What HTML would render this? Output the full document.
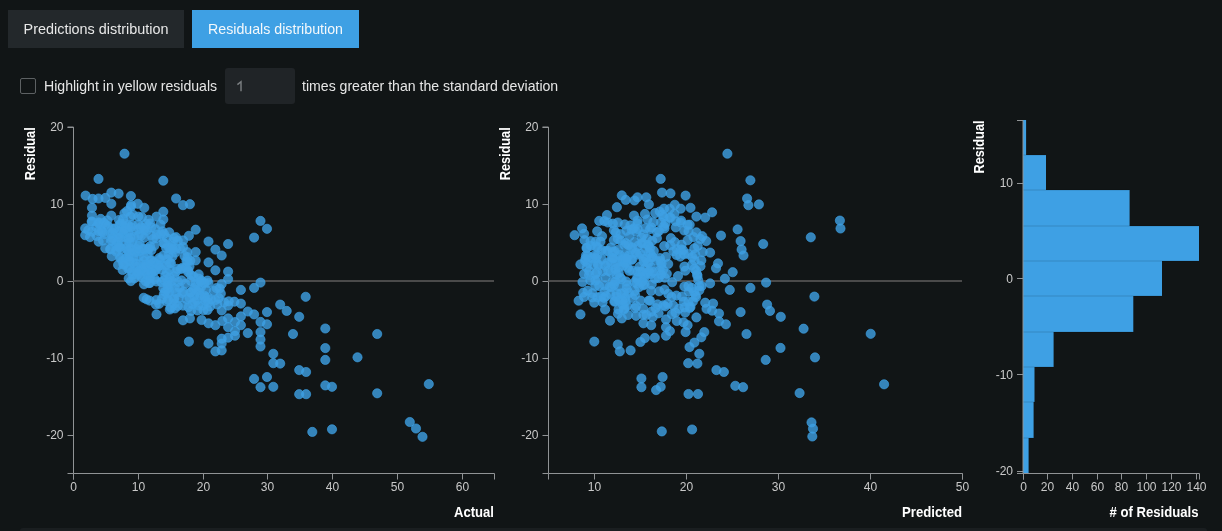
<!DOCTYPE html>
<html><head><meta charset="utf-8"><style>
html,body{margin:0;padding:0;}
body{-webkit-font-smoothing:antialiased;width:1222px;height:531px;overflow:hidden;background:#111516;position:relative;font-family:"Liberation Sans",sans-serif;}
.btn{will-change:transform;position:absolute;top:10px;height:38px;line-height:39px;font-size:14.4px;text-align:center;color:#e8e8e8;}
#b1{left:8px;width:176px;background:#23282b;}
#b2{left:192px;width:167px;background:#3ea0e4;color:#f4f8fb;font-size:14.2px;}
#cb{position:absolute;left:20px;top:78px;width:14px;height:14px;border:1px solid #5d6163;border-radius:2px;}
.t{will-change:transform;position:absolute;top:77px;font-size:14.1px;line-height:18px;color:#e6e6e6;white-space:nowrap;}
#inp{position:absolute;left:225px;top:68px;width:70px;height:36px;background:#202427;border-radius:3px;}
#inp span{position:absolute;left:12px;top:9px;font-size:14px;line-height:18px;color:#6f7376;}
#strip{position:absolute;left:20px;top:528px;width:1187px;height:3px;background:#1a1e20;border-radius:3px 3px 0 0;}
svg{position:absolute;left:0;top:0;}
</style></head><body>
<div class="btn" id="b1">Predictions distribution</div>
<div class="btn" id="b2">Residuals distribution</div>
<div id="cb"></div>
<div class="t" style="left:44px">Highlight in yellow residuals</div>
<div id="inp"></div>
<div class="t" style="left:302px">times greater than the standard deviation</div>
<div id="strip"></div>
<svg width="1222" height="531" viewBox="0 0 1222 531"><g font-size="12" font-family="Liberation Sans, sans-serif"><path d="M67.5,127.0H73.5V473.5H67.5" fill="none" stroke="#909395"/><line x1="67.5" x2="73.5" y1="127.5" y2="127.5" stroke="#909395"/><text x="63.5" y="131.0" text-anchor="end" fill="#c9c9c9">20</text><line x1="67.5" x2="73.5" y1="204.5" y2="204.5" stroke="#909395"/><text x="63.5" y="208.0" text-anchor="end" fill="#c9c9c9">10</text><line x1="67.5" x2="73.5" y1="281.5" y2="281.5" stroke="#909395"/><text x="63.5" y="285.0" text-anchor="end" fill="#c9c9c9">0</text><line x1="67.5" x2="73.5" y1="358.5" y2="358.5" stroke="#909395"/><text x="63.5" y="362.0" text-anchor="end" fill="#c9c9c9">-10</text><line x1="67.5" x2="73.5" y1="435.5" y2="435.5" stroke="#909395"/><text x="63.5" y="439.0" text-anchor="end" fill="#c9c9c9">-20</text><path d="M73.5,479.5V473.5H494.5V479.5" fill="none" stroke="#909395"/><line x1="73.5" x2="73.5" y1="473.5" y2="479.5" stroke="#909395"/><text x="73.5" y="490.5" text-anchor="middle" fill="#c9c9c9">0</text><line x1="138.5" x2="138.5" y1="473.5" y2="479.5" stroke="#909395"/><text x="138.5" y="490.5" text-anchor="middle" fill="#c9c9c9">10</text><line x1="203.5" x2="203.5" y1="473.5" y2="479.5" stroke="#909395"/><text x="203.5" y="490.5" text-anchor="middle" fill="#c9c9c9">20</text><line x1="267.5" x2="267.5" y1="473.5" y2="479.5" stroke="#909395"/><text x="267.5" y="490.5" text-anchor="middle" fill="#c9c9c9">30</text><line x1="332.5" x2="332.5" y1="473.5" y2="479.5" stroke="#909395"/><text x="332.5" y="490.5" text-anchor="middle" fill="#c9c9c9">40</text><line x1="397.5" x2="397.5" y1="473.5" y2="479.5" stroke="#909395"/><text x="397.5" y="490.5" text-anchor="middle" fill="#c9c9c9">50</text><line x1="462.5" x2="462.5" y1="473.5" y2="479.5" stroke="#909395"/><text x="462.5" y="490.5" text-anchor="middle" fill="#c9c9c9">60</text><line x1="73.5" x2="494" y1="281" y2="281" stroke="#4a4a4a" stroke-width="2"/><path d="M542.5,127.0H548.5V473.5H542.5" fill="none" stroke="#909395"/><line x1="542.5" x2="548.5" y1="127.5" y2="127.5" stroke="#909395"/><text x="538.5" y="131.0" text-anchor="end" fill="#c9c9c9">20</text><line x1="542.5" x2="548.5" y1="204.5" y2="204.5" stroke="#909395"/><text x="538.5" y="208.0" text-anchor="end" fill="#c9c9c9">10</text><line x1="542.5" x2="548.5" y1="281.5" y2="281.5" stroke="#909395"/><text x="538.5" y="285.0" text-anchor="end" fill="#c9c9c9">0</text><line x1="542.5" x2="548.5" y1="358.5" y2="358.5" stroke="#909395"/><text x="538.5" y="362.0" text-anchor="end" fill="#c9c9c9">-10</text><line x1="542.5" x2="548.5" y1="435.5" y2="435.5" stroke="#909395"/><text x="538.5" y="439.0" text-anchor="end" fill="#c9c9c9">-20</text><path d="M548.5,479.5V473.5H962.5V479.5" fill="none" stroke="#909395"/><line x1="594.5" x2="594.5" y1="473.5" y2="479.5" stroke="#909395"/><text x="594.5" y="490.5" text-anchor="middle" fill="#c9c9c9">10</text><line x1="686.5" x2="686.5" y1="473.5" y2="479.5" stroke="#909395"/><text x="686.5" y="490.5" text-anchor="middle" fill="#c9c9c9">20</text><line x1="778.5" x2="778.5" y1="473.5" y2="479.5" stroke="#909395"/><text x="778.5" y="490.5" text-anchor="middle" fill="#c9c9c9">30</text><line x1="870.5" x2="870.5" y1="473.5" y2="479.5" stroke="#909395"/><text x="870.5" y="490.5" text-anchor="middle" fill="#c9c9c9">40</text><line x1="962.5" x2="962.5" y1="473.5" y2="479.5" stroke="#909395"/><text x="962.5" y="490.5" text-anchor="middle" fill="#c9c9c9">50</text><line x1="548.5" x2="962" y1="281" y2="281" stroke="#4a4a4a" stroke-width="2"/></g><g fill="#3ea0e4"></g><g fill="#3ea0e4" fill-opacity="0.8" stroke="#3ea0e4" stroke-opacity="0.8" stroke-width="0.8"><circle cx="119.0" cy="220.0" r="4.6"/><circle cx="140.7" cy="227.1" r="4.6"/><circle cx="91.9" cy="231.7" r="4.6"/><circle cx="129.3" cy="242.3" r="4.6"/><circle cx="98.6" cy="222.4" r="4.6"/><circle cx="150.0" cy="246.3" r="4.6"/><circle cx="144.9" cy="228.1" r="4.6"/><circle cx="100.7" cy="218.9" r="4.6"/><circle cx="117.5" cy="241.9" r="4.6"/><circle cx="104.4" cy="234.2" r="4.6"/><circle cx="151.2" cy="227.3" r="4.6"/><circle cx="141.9" cy="217.1" r="4.6"/><circle cx="92.1" cy="221.8" r="4.6"/><circle cx="155.4" cy="229.1" r="4.6"/><circle cx="118.0" cy="234.3" r="4.6"/><circle cx="132.2" cy="224.9" r="4.6"/><circle cx="167.0" cy="238.1" r="4.6"/><circle cx="110.9" cy="234.0" r="4.6"/><circle cx="139.6" cy="243.9" r="4.6"/><circle cx="160.4" cy="224.5" r="4.6"/><circle cx="101.5" cy="231.1" r="4.6"/><circle cx="90.0" cy="237.1" r="4.6"/><circle cx="164.0" cy="233.9" r="4.6"/><circle cx="156.9" cy="234.6" r="4.6"/><circle cx="171.7" cy="246.2" r="4.6"/><circle cx="134.4" cy="236.9" r="4.6"/><circle cx="125.4" cy="237.1" r="4.6"/><circle cx="88.3" cy="230.2" r="4.6"/><circle cx="125.9" cy="243.8" r="4.6"/><circle cx="114.4" cy="228.7" r="4.6"/><circle cx="104.0" cy="222.7" r="4.6"/><circle cx="146.1" cy="223.7" r="4.6"/><circle cx="123.7" cy="233.7" r="4.6"/><circle cx="138.6" cy="235.4" r="4.6"/><circle cx="177.8" cy="240.7" r="4.6"/><circle cx="126.0" cy="228.2" r="4.6"/><circle cx="96.6" cy="235.9" r="4.6"/><circle cx="107.3" cy="220.4" r="4.6"/><circle cx="96.3" cy="227.0" r="4.6"/><circle cx="148.6" cy="219.9" r="4.6"/><circle cx="123.1" cy="219.1" r="4.6"/><circle cx="133.5" cy="231.0" r="4.6"/><circle cx="120.9" cy="223.7" r="4.6"/><circle cx="174.1" cy="238.0" r="4.6"/><circle cx="103.0" cy="240.5" r="4.6"/><circle cx="173.0" cy="241.6" r="4.6"/><circle cx="112.4" cy="237.9" r="4.6"/><circle cx="132.6" cy="262.5" r="4.6"/><circle cx="129.6" cy="261.1" r="4.6"/><circle cx="183.0" cy="305.6" r="4.6"/><circle cx="186.6" cy="299.2" r="4.6"/><circle cx="218.7" cy="298.1" r="4.6"/><circle cx="198.8" cy="278.6" r="4.6"/><circle cx="146.6" cy="299.3" r="4.6"/><circle cx="120.9" cy="257.7" r="4.6"/><circle cx="148.8" cy="283.1" r="4.6"/><circle cx="121.4" cy="248.9" r="4.6"/><circle cx="170.8" cy="307.8" r="4.6"/><circle cx="159.2" cy="303.8" r="4.6"/><circle cx="136.5" cy="266.7" r="4.6"/><circle cx="137.4" cy="274.8" r="4.6"/><circle cx="149.2" cy="277.3" r="4.6"/><circle cx="177.9" cy="305.9" r="4.6"/><circle cx="167.7" cy="282.0" r="4.6"/><circle cx="170.4" cy="249.2" r="4.6"/><circle cx="160.0" cy="259.7" r="4.6"/><circle cx="195.6" cy="283.6" r="4.6"/><circle cx="145.7" cy="281.2" r="4.6"/><circle cx="174.4" cy="298.2" r="4.6"/><circle cx="201.5" cy="280.5" r="4.6"/><circle cx="181.6" cy="280.4" r="4.6"/><circle cx="169.0" cy="292.3" r="4.6"/><circle cx="161.5" cy="282.1" r="4.6"/><circle cx="192.4" cy="304.1" r="4.6"/><circle cx="174.9" cy="308.4" r="4.6"/><circle cx="203.0" cy="305.4" r="4.6"/><circle cx="187.5" cy="257.2" r="4.6"/><circle cx="154.8" cy="279.2" r="4.6"/><circle cx="228.7" cy="301.3" r="4.6"/><circle cx="169.5" cy="269.7" r="4.6"/><circle cx="129.5" cy="268.4" r="4.6"/><circle cx="174.3" cy="276.2" r="4.6"/><circle cx="203.5" cy="310.2" r="4.6"/><circle cx="118.1" cy="265.0" r="4.6"/><circle cx="138.8" cy="256.3" r="4.6"/><circle cx="176.3" cy="292.8" r="4.6"/><circle cx="116.2" cy="251.7" r="4.6"/><circle cx="191.0" cy="275.2" r="4.6"/><circle cx="161.7" cy="269.7" r="4.6"/><circle cx="170.9" cy="263.3" r="4.6"/><circle cx="144.0" cy="267.5" r="4.6"/><circle cx="167.5" cy="259.4" r="4.6"/><circle cx="148.4" cy="249.2" r="4.6"/><circle cx="136.3" cy="249.0" r="4.6"/><circle cx="128.7" cy="278.4" r="4.6"/><circle cx="166.9" cy="301.4" r="4.6"/><circle cx="191.0" cy="310.9" r="4.6"/><circle cx="193.3" cy="288.7" r="4.6"/><circle cx="155.6" cy="270.2" r="4.6"/><circle cx="111.8" cy="256.3" r="4.6"/><circle cx="213.8" cy="290.9" r="4.6"/><circle cx="140.2" cy="263.5" r="4.6"/><circle cx="141.6" cy="277.4" r="4.6"/><circle cx="143.7" cy="270.8" r="4.6"/><circle cx="164.3" cy="280.2" r="4.6"/><circle cx="110.2" cy="249.4" r="4.6"/><circle cx="178.2" cy="281.9" r="4.6"/><circle cx="198.8" cy="290.1" r="4.6"/><circle cx="216.5" cy="288.1" r="4.6"/><circle cx="196.7" cy="300.0" r="4.6"/><circle cx="205.6" cy="300.9" r="4.6"/><circle cx="190.4" cy="292.4" r="4.6"/><circle cx="174.8" cy="288.2" r="4.6"/><circle cx="183.3" cy="291.6" r="4.6"/><circle cx="166.2" cy="248.2" r="4.6"/><circle cx="204.7" cy="295.9" r="4.6"/><circle cx="187.4" cy="252.2" r="4.6"/><circle cx="197.5" cy="310.4" r="4.6"/><circle cx="166.7" cy="272.5" r="4.6"/><circle cx="164.9" cy="291.8" r="4.6"/><circle cx="200.9" cy="287.5" r="4.6"/><circle cx="123.4" cy="264.3" r="4.6"/><circle cx="176.0" cy="248.8" r="4.6"/><circle cx="189.5" cy="266.6" r="4.6"/><circle cx="169.6" cy="277.7" r="4.6"/><circle cx="163.3" cy="255.6" r="4.6"/><circle cx="207.5" cy="310.0" r="4.6"/><circle cx="161.2" cy="265.2" r="4.6"/><circle cx="207.5" cy="280.6" r="4.6"/><circle cx="122.6" cy="270.0" r="4.6"/><circle cx="220.8" cy="293.6" r="4.6"/><circle cx="151.5" cy="273.1" r="4.6"/><circle cx="139.4" cy="251.1" r="4.6"/><circle cx="215.5" cy="300.0" r="4.6"/><circle cx="125.9" cy="258.3" r="4.6"/><circle cx="129.1" cy="253.8" r="4.6"/><circle cx="147.7" cy="253.8" r="4.6"/><circle cx="198.7" cy="274.4" r="4.6"/><circle cx="156.7" cy="281.5" r="4.6"/><circle cx="152.1" cy="269.6" r="4.6"/><circle cx="167.9" cy="288.3" r="4.6"/><circle cx="224.2" cy="302.3" r="4.6"/><circle cx="208.2" cy="302.7" r="4.6"/><circle cx="185.7" cy="267.4" r="4.6"/><circle cx="170.6" cy="285.3" r="4.6"/><circle cx="153.5" cy="262.3" r="4.6"/><circle cx="180.1" cy="248.7" r="4.6"/><circle cx="143.4" cy="249.4" r="4.6"/><circle cx="157.5" cy="264.5" r="4.6"/><circle cx="188.4" cy="307.2" r="4.6"/><circle cx="133.3" cy="250.2" r="4.6"/><circle cx="147.3" cy="274.9" r="4.6"/><circle cx="190.3" cy="260.7" r="4.6"/><circle cx="132.9" cy="274.7" r="4.6"/><circle cx="217.3" cy="304.5" r="4.6"/><circle cx="188.1" cy="272.2" r="4.6"/><circle cx="126.2" cy="248.2" r="4.6"/><circle cx="140.0" cy="270.5" r="4.6"/><circle cx="149.6" cy="300.6" r="4.6"/><circle cx="156.4" cy="300.0" r="4.6"/><circle cx="198.4" cy="305.5" r="4.6"/><circle cx="147.4" cy="265.4" r="4.6"/><circle cx="219.6" cy="288.6" r="4.6"/><circle cx="134.2" cy="278.4" r="4.6"/><circle cx="207.8" cy="297.5" r="4.6"/><circle cx="180.9" cy="269.0" r="4.6"/><circle cx="135.9" cy="252.1" r="4.6"/><circle cx="193.7" cy="276.6" r="4.6"/><circle cx="175.9" cy="271.9" r="4.6"/><circle cx="135.9" cy="263.7" r="4.6"/><circle cx="177.3" cy="268.9" r="4.6"/><circle cx="206.1" cy="289.8" r="4.6"/><circle cx="210.1" cy="306.5" r="4.6"/><circle cx="179.5" cy="287.7" r="4.6"/><circle cx="132.2" cy="271.6" r="4.6"/><circle cx="122.7" cy="261.1" r="4.6"/><circle cx="186.5" cy="261.0" r="4.6"/><circle cx="144.0" cy="261.0" r="4.6"/><circle cx="204.4" cy="283.1" r="4.6"/><circle cx="144.0" cy="284.3" r="4.6"/><circle cx="150.5" cy="260.6" r="4.6"/><circle cx="155.8" cy="304.5" r="4.6"/><circle cx="131.1" cy="205.1" r="4.6"/><circle cx="133.0" cy="214.8" r="4.6"/><circle cx="127.0" cy="211.1" r="4.6"/><circle cx="119.4" cy="225.1" r="4.6"/><circle cx="189.4" cy="297.9" r="4.6"/><circle cx="175.4" cy="252.6" r="4.6"/><circle cx="195.1" cy="287.3" r="4.6"/><circle cx="164.3" cy="243.4" r="4.6"/><circle cx="133.6" cy="257.0" r="4.6"/><circle cx="173.7" cy="299.5" r="4.6"/><circle cx="102.6" cy="231.9" r="4.6"/><circle cx="167.9" cy="299.8" r="4.6"/><circle cx="146.7" cy="230.5" r="4.6"/><circle cx="182.2" cy="293.0" r="4.6"/><circle cx="172.2" cy="280.9" r="4.6"/><circle cx="141.4" cy="269.7" r="4.6"/><circle cx="149.8" cy="278.2" r="4.6"/><circle cx="140.9" cy="275.5" r="4.6"/><circle cx="172.3" cy="256.7" r="4.6"/><circle cx="137.2" cy="272.3" r="4.6"/><circle cx="168.9" cy="247.6" r="4.6"/><circle cx="147.9" cy="270.7" r="4.6"/><circle cx="194.3" cy="295.7" r="4.6"/><circle cx="178.8" cy="297.8" r="4.6"/><circle cx="138.9" cy="229.1" r="4.6"/><circle cx="163.3" cy="288.2" r="4.6"/><circle cx="152.9" cy="239.1" r="4.6"/><circle cx="154.2" cy="270.9" r="4.6"/><circle cx="120.3" cy="238.0" r="4.6"/><circle cx="145.5" cy="264.9" r="4.6"/><circle cx="194.6" cy="302.0" r="4.6"/><circle cx="128.0" cy="225.1" r="4.6"/><circle cx="107.9" cy="226.2" r="4.6"/><circle cx="163.8" cy="294.3" r="4.6"/><circle cx="168.6" cy="255.0" r="4.6"/><circle cx="128.3" cy="268.9" r="4.6"/><circle cx="150.9" cy="235.3" r="4.6"/><circle cx="128.2" cy="251.2" r="4.6"/><circle cx="204.5" cy="297.1" r="4.6"/><circle cx="190.8" cy="280.9" r="4.6"/><circle cx="174.3" cy="303.8" r="4.6"/><circle cx="167.8" cy="284.9" r="4.6"/><circle cx="110.4" cy="248.9" r="4.6"/><circle cx="128.3" cy="232.3" r="4.6"/><circle cx="200.3" cy="295.8" r="4.6"/><circle cx="151.4" cy="250.2" r="4.6"/><circle cx="124.2" cy="226.7" r="4.6"/><circle cx="182.2" cy="267.9" r="4.6"/><circle cx="129.4" cy="256.2" r="4.6"/><circle cx="116.4" cy="244.5" r="4.6"/><circle cx="154.3" cy="245.8" r="4.6"/><circle cx="128.4" cy="238.7" r="4.6"/><circle cx="119.9" cy="258.1" r="4.6"/><circle cx="169.8" cy="263.1" r="4.6"/><circle cx="184.5" cy="255.9" r="4.6"/><circle cx="141.3" cy="235.6" r="4.6"/><circle cx="150.6" cy="264.8" r="4.6"/><circle cx="158.6" cy="266.0" r="4.6"/><circle cx="119.5" cy="230.5" r="4.6"/><circle cx="166.0" cy="265.4" r="4.6"/><circle cx="200.6" cy="281.5" r="4.6"/><circle cx="167.8" cy="293.5" r="4.6"/><circle cx="143.9" cy="256.9" r="4.6"/><circle cx="211.0" cy="299.5" r="4.6"/><circle cx="162.0" cy="298.7" r="4.6"/><circle cx="159.4" cy="258.0" r="4.6"/><circle cx="129.7" cy="260.7" r="4.6"/><circle cx="161.0" cy="234.3" r="4.6"/><circle cx="112.6" cy="232.9" r="4.6"/><circle cx="132.0" cy="242.2" r="4.6"/><circle cx="165.3" cy="276.0" r="4.6"/><circle cx="124.1" cy="264.5" r="4.6"/><circle cx="149.9" cy="283.0" r="4.6"/><circle cx="110.9" cy="240.7" r="4.6"/><circle cx="116.2" cy="250.0" r="4.6"/><circle cx="185.2" cy="283.7" r="4.6"/><circle cx="187.6" cy="261.4" r="4.6"/><circle cx="188.3" cy="270.6" r="4.6"/><circle cx="151.4" cy="260.0" r="4.6"/><circle cx="143.4" cy="248.7" r="4.6"/><circle cx="190.9" cy="292.5" r="4.6"/><circle cx="119.7" cy="247.2" r="4.6"/><circle cx="197.5" cy="291.6" r="4.6"/><circle cx="124.5" cy="153.7" r="4.6"/><circle cx="98.5" cy="178.9" r="4.6"/><circle cx="163.3" cy="180.7" r="4.6"/><circle cx="85.6" cy="195.6" r="4.6"/><circle cx="111.3" cy="192.6" r="4.6"/><circle cx="118.6" cy="193.6" r="4.6"/><circle cx="130.9" cy="196.0" r="4.6"/><circle cx="92.6" cy="198.9" r="4.6"/><circle cx="98.5" cy="198.5" r="4.6"/><circle cx="105.4" cy="197.9" r="4.6"/><circle cx="111.3" cy="203.8" r="4.6"/><circle cx="92.0" cy="207.8" r="4.6"/><circle cx="137.8" cy="203.8" r="4.6"/><circle cx="144.3" cy="207.8" r="4.6"/><circle cx="130.9" cy="206.8" r="4.6"/><circle cx="176.1" cy="198.5" r="4.6"/><circle cx="183.0" cy="205.2" r="4.6"/><circle cx="189.9" cy="204.2" r="4.6"/><circle cx="163.3" cy="211.7" r="4.6"/><circle cx="163.3" cy="219.5" r="4.6"/><circle cx="156.5" cy="216.6" r="4.6"/><circle cx="150.2" cy="223.5" r="4.6"/><circle cx="92.0" cy="215.6" r="4.6"/><circle cx="111.3" cy="215.6" r="4.6"/><circle cx="91.7" cy="221.5" r="4.6"/><circle cx="85.2" cy="228.4" r="4.6"/><circle cx="85.2" cy="235.2" r="4.6"/><circle cx="195.7" cy="229.7" r="4.6"/><circle cx="188.9" cy="235.8" r="4.6"/><circle cx="176.1" cy="237.2" r="4.6"/><circle cx="169.2" cy="232.3" r="4.6"/><circle cx="260.5" cy="220.9" r="4.6"/><circle cx="267.0" cy="228.8" r="4.6"/><circle cx="254.1" cy="237.6" r="4.6"/><circle cx="208.5" cy="241.5" r="4.6"/><circle cx="228.1" cy="244.0" r="4.6"/><circle cx="156.5" cy="238.2" r="4.6"/><circle cx="162.4" cy="231.3" r="4.6"/><circle cx="215.4" cy="249.6" r="4.6"/><circle cx="221.7" cy="255.5" r="4.6"/><circle cx="208.5" cy="262.4" r="4.6"/><circle cx="215.4" cy="270.3" r="4.6"/><circle cx="228.1" cy="271.6" r="4.6"/><circle cx="228.1" cy="279.1" r="4.6"/><circle cx="221.7" cy="284.0" r="4.6"/><circle cx="208.5" cy="283.0" r="4.6"/><circle cx="240.9" cy="289.9" r="4.6"/><circle cx="254.1" cy="287.9" r="4.6"/><circle cx="260.5" cy="282.6" r="4.6"/><circle cx="305.7" cy="296.8" r="4.6"/><circle cx="280.2" cy="304.6" r="4.6"/><circle cx="286.7" cy="310.9" r="4.6"/><circle cx="299.2" cy="316.8" r="4.6"/><circle cx="267.0" cy="312.1" r="4.6"/><circle cx="254.1" cy="314.4" r="4.6"/><circle cx="260.5" cy="321.9" r="4.6"/><circle cx="267.0" cy="324.3" r="4.6"/><circle cx="240.9" cy="303.6" r="4.6"/><circle cx="240.9" cy="316.4" r="4.6"/><circle cx="240.9" cy="325.2" r="4.6"/><circle cx="247.8" cy="311.5" r="4.6"/><circle cx="228.1" cy="305.6" r="4.6"/><circle cx="221.7" cy="310.5" r="4.6"/><circle cx="228.1" cy="318.4" r="4.6"/><circle cx="208.5" cy="323.3" r="4.6"/><circle cx="215.4" cy="325.2" r="4.6"/><circle cx="228.1" cy="327.2" r="4.6"/><circle cx="235.0" cy="331.1" r="4.6"/><circle cx="247.8" cy="333.1" r="4.6"/><circle cx="260.5" cy="332.1" r="4.6"/><circle cx="293.0" cy="334.0" r="4.6"/><circle cx="156.5" cy="314.4" r="4.6"/><circle cx="169.8" cy="309.5" r="4.6"/><circle cx="183.0" cy="320.3" r="4.6"/><circle cx="189.9" cy="318.4" r="4.6"/><circle cx="130.9" cy="281.1" r="4.6"/><circle cx="143.7" cy="297.8" r="4.6"/><circle cx="195.7" cy="252.0" r="4.6"/><circle cx="195.7" cy="260.4" r="4.6"/><circle cx="201.6" cy="320.0" r="4.6"/><circle cx="222.3" cy="321.0" r="4.6"/><circle cx="235.0" cy="322.0" r="4.6"/><circle cx="188.9" cy="341.6" r="4.6"/><circle cx="208.5" cy="343.6" r="4.6"/><circle cx="215.4" cy="351.4" r="4.6"/><circle cx="221.7" cy="350.4" r="4.6"/><circle cx="221.7" cy="338.7" r="4.6"/><circle cx="221.7" cy="343.6" r="4.6"/><circle cx="228.1" cy="337.7" r="4.6"/><circle cx="235.0" cy="335.7" r="4.6"/><circle cx="260.5" cy="339.6" r="4.6"/><circle cx="260.5" cy="346.5" r="4.6"/><circle cx="273.3" cy="353.8" r="4.6"/><circle cx="273.3" cy="363.2" r="4.6"/><circle cx="280.2" cy="363.6" r="4.6"/><circle cx="299.2" cy="370.1" r="4.6"/><circle cx="306.1" cy="372.0" r="4.6"/><circle cx="254.1" cy="378.9" r="4.6"/><circle cx="267.0" cy="377.0" r="4.6"/><circle cx="260.5" cy="387.2" r="4.6"/><circle cx="273.3" cy="386.8" r="4.6"/><circle cx="299.2" cy="394.2" r="4.6"/><circle cx="306.1" cy="394.2" r="4.6"/><circle cx="325.3" cy="328.5" r="4.6"/><circle cx="377.2" cy="334.0" r="4.6"/><circle cx="325.3" cy="348.1" r="4.6"/><circle cx="325.3" cy="359.9" r="4.6"/><circle cx="357.5" cy="357.3" r="4.6"/><circle cx="325.3" cy="385.4" r="4.6"/><circle cx="332.0" cy="386.8" r="4.6"/><circle cx="377.2" cy="393.3" r="4.6"/><circle cx="428.8" cy="384.1" r="4.6"/><circle cx="312.3" cy="431.9" r="4.6"/><circle cx="332.0" cy="429.3" r="4.6"/><circle cx="409.8" cy="422.0" r="4.6"/><circle cx="416.0" cy="428.5" r="4.6"/><circle cx="422.5" cy="436.8" r="4.6"/><circle cx="98.7" cy="223.2" r="4.6"/><circle cx="98.7" cy="231.1" r="4.6"/><circle cx="98.7" cy="241.7" r="4.6"/><circle cx="105.3" cy="248.3" r="4.6"/><circle cx="105.3" cy="224.5" r="4.6"/><circle cx="111.9" cy="228.5" r="4.6"/><circle cx="124.4" cy="213.3" r="4.6"/><circle cx="138.3" cy="216.6" r="4.6"/><circle cx="130.4" cy="216.6" r="4.6"/><circle cx="124.4" cy="223.2" r="4.6"/><circle cx="124.4" cy="229.8" r="4.6"/><circle cx="131.0" cy="227.2" r="4.6"/><circle cx="138.3" cy="224.5" r="4.6"/><circle cx="144.2" cy="229.8" r="4.6"/><circle cx="144.2" cy="237.7" r="4.6"/><circle cx="130.4" cy="237.7" r="4.6"/><circle cx="118.5" cy="237.7" r="4.6"/><circle cx="111.9" cy="240.4" r="4.6"/><circle cx="118.5" cy="246.9" r="4.6"/><circle cx="130.4" cy="248.3" r="4.6"/><circle cx="138.3" cy="245.6" r="4.6"/><circle cx="163.3" cy="243.0" r="4.6"/><circle cx="183.1" cy="240.4" r="4.6"/><circle cx="183.1" cy="247.0" r="4.6"/><circle cx="148.8" cy="248.3" r="4.6"/><circle cx="172.5" cy="248.3" r="4.6"/><circle cx="234.4" cy="301.7" r="4.6"/><circle cx="634.7" cy="241.9" r="4.6"/><circle cx="651.2" cy="227.4" r="4.6"/><circle cx="693.5" cy="237.1" r="4.6"/><circle cx="648.1" cy="244.9" r="4.6"/><circle cx="645.6" cy="228.1" r="4.6"/><circle cx="665.5" cy="223.6" r="4.6"/><circle cx="626.6" cy="230.8" r="4.6"/><circle cx="625.8" cy="243.2" r="4.6"/><circle cx="664.5" cy="228.4" r="4.6"/><circle cx="631.7" cy="229.6" r="4.6"/><circle cx="652.3" cy="240.8" r="4.6"/><circle cx="636.4" cy="231.9" r="4.6"/><circle cx="647.1" cy="238.6" r="4.6"/><circle cx="604.3" cy="221.1" r="4.6"/><circle cx="700.4" cy="238.9" r="4.6"/><circle cx="645.0" cy="213.9" r="4.6"/><circle cx="681.6" cy="244.7" r="4.6"/><circle cx="689.7" cy="224.7" r="4.6"/><circle cx="659.0" cy="231.1" r="4.6"/><circle cx="659.7" cy="211.5" r="4.6"/><circle cx="620.5" cy="234.2" r="4.6"/><circle cx="684.2" cy="230.5" r="4.6"/><circle cx="663.5" cy="216.9" r="4.6"/><circle cx="615.7" cy="232.6" r="4.6"/><circle cx="674.4" cy="213.7" r="4.6"/><circle cx="656.9" cy="238.2" r="4.6"/><circle cx="675.7" cy="221.3" r="4.6"/><circle cx="595.8" cy="241.6" r="4.6"/><circle cx="653.3" cy="222.2" r="4.6"/><circle cx="637.5" cy="223.5" r="4.6"/><circle cx="590.5" cy="241.2" r="4.6"/><circle cx="681.1" cy="220.6" r="4.6"/><circle cx="643.0" cy="243.2" r="4.6"/><circle cx="612.9" cy="223.6" r="4.6"/><circle cx="669.5" cy="217.7" r="4.6"/><circle cx="620.8" cy="240.6" r="4.6"/><circle cx="641.6" cy="237.7" r="4.6"/><circle cx="611.7" cy="257.7" r="4.6"/><circle cx="625.7" cy="258.6" r="4.6"/><circle cx="700.5" cy="266.2" r="4.6"/><circle cx="650.5" cy="253.4" r="4.6"/><circle cx="647.1" cy="273.1" r="4.6"/><circle cx="631.2" cy="249.8" r="4.6"/><circle cx="624.9" cy="262.9" r="4.6"/><circle cx="605.3" cy="265.7" r="4.6"/><circle cx="610.9" cy="247.5" r="4.6"/><circle cx="663.0" cy="269.9" r="4.6"/><circle cx="601.0" cy="296.5" r="4.6"/><circle cx="593.3" cy="264.7" r="4.6"/><circle cx="683.9" cy="254.3" r="4.6"/><circle cx="636.1" cy="306.1" r="4.6"/><circle cx="680.2" cy="256.6" r="4.6"/><circle cx="625.1" cy="297.7" r="4.6"/><circle cx="628.0" cy="315.0" r="4.6"/><circle cx="643.6" cy="261.6" r="4.6"/><circle cx="637.2" cy="254.6" r="4.6"/><circle cx="668.2" cy="264.0" r="4.6"/><circle cx="691.8" cy="287.9" r="4.6"/><circle cx="656.2" cy="260.5" r="4.6"/><circle cx="688.4" cy="254.0" r="4.6"/><circle cx="644.6" cy="284.6" r="4.6"/><circle cx="615.0" cy="301.3" r="4.6"/><circle cx="628.9" cy="293.0" r="4.6"/><circle cx="651.3" cy="267.7" r="4.6"/><circle cx="621.2" cy="293.4" r="4.6"/><circle cx="595.3" cy="286.0" r="4.6"/><circle cx="626.1" cy="281.5" r="4.6"/><circle cx="618.2" cy="249.8" r="4.6"/><circle cx="620.0" cy="261.5" r="4.6"/><circle cx="597.4" cy="297.3" r="4.6"/><circle cx="616.4" cy="274.4" r="4.6"/><circle cx="692.9" cy="301.6" r="4.6"/><circle cx="689.7" cy="307.9" r="4.6"/><circle cx="598.1" cy="265.2" r="4.6"/><circle cx="685.3" cy="270.7" r="4.6"/><circle cx="671.6" cy="297.0" r="4.6"/><circle cx="586.9" cy="247.9" r="4.6"/><circle cx="601.8" cy="259.5" r="4.6"/><circle cx="586.8" cy="267.7" r="4.6"/><circle cx="659.9" cy="258.1" r="4.6"/><circle cx="684.4" cy="286.6" r="4.6"/><circle cx="635.1" cy="295.0" r="4.6"/><circle cx="624.6" cy="245.1" r="4.6"/><circle cx="683.8" cy="301.7" r="4.6"/><circle cx="587.8" cy="262.8" r="4.6"/><circle cx="673.4" cy="251.3" r="4.6"/><circle cx="666.8" cy="273.7" r="4.6"/><circle cx="673.2" cy="305.5" r="4.6"/><circle cx="697.5" cy="276.0" r="4.6"/><circle cx="695.5" cy="295.5" r="4.6"/><circle cx="658.6" cy="278.1" r="4.6"/><circle cx="634.3" cy="282.4" r="4.6"/><circle cx="695.2" cy="254.3" r="4.6"/><circle cx="667.7" cy="303.8" r="4.6"/><circle cx="613.9" cy="284.9" r="4.6"/><circle cx="648.4" cy="263.2" r="4.6"/><circle cx="589.2" cy="271.1" r="4.6"/><circle cx="632.2" cy="259.7" r="4.6"/><circle cx="619.9" cy="255.0" r="4.6"/><circle cx="668.3" cy="293.9" r="4.6"/><circle cx="611.0" cy="262.6" r="4.6"/><circle cx="644.9" cy="277.5" r="4.6"/><circle cx="696.2" cy="270.7" r="4.6"/><circle cx="618.5" cy="309.6" r="4.6"/><circle cx="599.3" cy="286.1" r="4.6"/><circle cx="622.7" cy="304.5" r="4.6"/><circle cx="648.9" cy="300.5" r="4.6"/><circle cx="655.0" cy="278.7" r="4.6"/><circle cx="606.0" cy="296.2" r="4.6"/><circle cx="621.6" cy="279.2" r="4.6"/><circle cx="590.8" cy="245.8" r="4.6"/><circle cx="592.2" cy="297.4" r="4.6"/><circle cx="701.6" cy="286.1" r="4.6"/><circle cx="595.3" cy="280.7" r="4.6"/><circle cx="648.3" cy="245.6" r="4.6"/><circle cx="694.2" cy="292.0" r="4.6"/><circle cx="658.6" cy="313.3" r="4.6"/><circle cx="661.6" cy="263.4" r="4.6"/><circle cx="684.4" cy="266.6" r="4.6"/><circle cx="604.7" cy="291.6" r="4.6"/><circle cx="685.2" cy="312.6" r="4.6"/><circle cx="602.6" cy="302.3" r="4.6"/><circle cx="621.9" cy="258.5" r="4.6"/><circle cx="627.0" cy="285.2" r="4.6"/><circle cx="627.1" cy="305.7" r="4.6"/><circle cx="651.2" cy="290.9" r="4.6"/><circle cx="682.0" cy="296.5" r="4.6"/><circle cx="642.3" cy="281.5" r="4.6"/><circle cx="665.9" cy="256.9" r="4.6"/><circle cx="636.1" cy="315.8" r="4.6"/><circle cx="670.2" cy="245.2" r="4.6"/><circle cx="684.6" cy="307.4" r="4.6"/><circle cx="678.0" cy="276.1" r="4.6"/><circle cx="616.6" cy="293.3" r="4.6"/><circle cx="663.3" cy="305.3" r="4.6"/><circle cx="692.3" cy="257.0" r="4.6"/><circle cx="605.8" cy="251.2" r="4.6"/><circle cx="699.3" cy="290.3" r="4.6"/><circle cx="681.0" cy="249.4" r="4.6"/><circle cx="664.5" cy="289.5" r="4.6"/><circle cx="618.2" cy="286.7" r="4.6"/><circle cx="698.2" cy="280.1" r="4.6"/><circle cx="661.0" cy="266.8" r="4.6"/><circle cx="623.9" cy="309.6" r="4.6"/><circle cx="585.4" cy="258.8" r="4.6"/><circle cx="664.8" cy="277.7" r="4.6"/><circle cx="592.4" cy="293.2" r="4.6"/><circle cx="650.9" cy="273.9" r="4.6"/><circle cx="595.9" cy="258.2" r="4.6"/><circle cx="612.9" cy="251.9" r="4.6"/><circle cx="609.6" cy="286.8" r="4.6"/><circle cx="653.8" cy="250.9" r="4.6"/><circle cx="676.5" cy="255.0" r="4.6"/><circle cx="676.7" cy="249.2" r="4.6"/><circle cx="610.9" cy="272.2" r="4.6"/><circle cx="688.4" cy="286.1" r="4.6"/><circle cx="597.0" cy="272.2" r="4.6"/><circle cx="671.9" cy="314.2" r="4.6"/><circle cx="605.6" cy="277.6" r="4.6"/><circle cx="595.9" cy="246.5" r="4.6"/><circle cx="604.6" cy="285.5" r="4.6"/><circle cx="628.5" cy="255.5" r="4.6"/><circle cx="697.7" cy="246.0" r="4.6"/><circle cx="643.2" cy="308.7" r="4.6"/><circle cx="602.7" cy="271.4" r="4.6"/><circle cx="639.1" cy="287.1" r="4.6"/><circle cx="629.3" cy="270.8" r="4.6"/><circle cx="587.5" cy="255.6" r="4.6"/><circle cx="615.3" cy="281.5" r="4.6"/><circle cx="646.4" cy="314.9" r="4.6"/><circle cx="688.4" cy="301.5" r="4.6"/><circle cx="659.2" cy="291.3" r="4.6"/><circle cx="679.0" cy="308.7" r="4.6"/><circle cx="619.1" cy="300.7" r="4.6"/><circle cx="672.2" cy="282.2" r="4.6"/><circle cx="659.5" cy="270.6" r="4.6"/><circle cx="640.7" cy="271.8" r="4.6"/><circle cx="624.6" cy="254.9" r="4.6"/><circle cx="637.3" cy="277.5" r="4.6"/><circle cx="618.8" cy="267.5" r="4.6"/><circle cx="591.8" cy="258.0" r="4.6"/><circle cx="652.8" cy="317.1" r="4.6"/><circle cx="625.6" cy="301.5" r="4.6"/><circle cx="590.3" cy="280.4" r="4.6"/><circle cx="691.7" cy="265.1" r="4.6"/><circle cx="655.6" cy="308.1" r="4.6"/><circle cx="688.8" cy="291.7" r="4.6"/><circle cx="694.6" cy="260.5" r="4.6"/><circle cx="661.2" cy="274.6" r="4.6"/><circle cx="589.0" cy="275.2" r="4.6"/><circle cx="587.5" cy="290.7" r="4.6"/><circle cx="597.7" cy="247.4" r="4.6"/><circle cx="640.0" cy="253.6" r="4.6"/><circle cx="614.7" cy="251.5" r="4.6"/><circle cx="634.7" cy="291.0" r="4.6"/><circle cx="606.9" cy="263.1" r="4.6"/><circle cx="644.7" cy="275.5" r="4.6"/><circle cx="617.8" cy="238.8" r="4.6"/><circle cx="622.3" cy="259.5" r="4.6"/><circle cx="620.1" cy="277.5" r="4.6"/><circle cx="645.9" cy="258.6" r="4.6"/><circle cx="618.7" cy="273.0" r="4.6"/><circle cx="627.7" cy="267.8" r="4.6"/><circle cx="651.7" cy="284.5" r="4.6"/><circle cx="595.6" cy="273.9" r="4.6"/><circle cx="623.6" cy="265.6" r="4.6"/><circle cx="647.7" cy="262.6" r="4.6"/><circle cx="624.3" cy="293.0" r="4.6"/><circle cx="626.8" cy="288.8" r="4.6"/><circle cx="636.9" cy="283.4" r="4.6"/><circle cx="637.5" cy="271.4" r="4.6"/><circle cx="643.2" cy="285.3" r="4.6"/><circle cx="601.6" cy="250.1" r="4.6"/><circle cx="600.5" cy="241.6" r="4.6"/><circle cx="642.2" cy="272.1" r="4.6"/><circle cx="597.5" cy="279.6" r="4.6"/><circle cx="639.5" cy="266.9" r="4.6"/><circle cx="615.4" cy="269.2" r="4.6"/><circle cx="649.0" cy="271.6" r="4.6"/><circle cx="626.7" cy="262.9" r="4.6"/><circle cx="597.3" cy="255.5" r="4.6"/><circle cx="648.8" cy="252.5" r="4.6"/><circle cx="631.4" cy="259.4" r="4.6"/><circle cx="645.3" cy="248.8" r="4.6"/><circle cx="611.5" cy="286.9" r="4.6"/><circle cx="612.7" cy="281.5" r="4.6"/><circle cx="597.7" cy="263.8" r="4.6"/><circle cx="632.2" cy="247.5" r="4.6"/><circle cx="653.0" cy="271.9" r="4.6"/><circle cx="645.2" cy="267.9" r="4.6"/><circle cx="637.1" cy="279.2" r="4.6"/><circle cx="610.5" cy="294.0" r="4.6"/><circle cx="637.9" cy="245.9" r="4.6"/><circle cx="652.4" cy="256.8" r="4.6"/><circle cx="608.3" cy="270.9" r="4.6"/><circle cx="612.6" cy="258.3" r="4.6"/><circle cx="632.3" cy="270.6" r="4.6"/><circle cx="632.3" cy="297.9" r="4.6"/><circle cx="616.0" cy="296.4" r="4.6"/><circle cx="615.3" cy="264.8" r="4.6"/><circle cx="727.4" cy="153.7" r="4.6"/><circle cx="660.7" cy="178.9" r="4.6"/><circle cx="750.4" cy="180.3" r="4.6"/><circle cx="662.0" cy="192.6" r="4.6"/><circle cx="670.5" cy="193.4" r="4.6"/><circle cx="685.6" cy="195.6" r="4.6"/><circle cx="747.1" cy="198.5" r="4.6"/><circle cx="748.4" cy="205.2" r="4.6"/><circle cx="758.9" cy="204.4" r="4.6"/><circle cx="621.8" cy="195.4" r="4.6"/><circle cx="625.7" cy="199.9" r="4.6"/><circle cx="634.5" cy="200.5" r="4.6"/><circle cx="637.5" cy="197.3" r="4.6"/><circle cx="646.3" cy="197.3" r="4.6"/><circle cx="648.9" cy="204.4" r="4.6"/><circle cx="616.9" cy="207.2" r="4.6"/><circle cx="607.0" cy="215.0" r="4.6"/><circle cx="599.2" cy="220.9" r="4.6"/><circle cx="582.1" cy="228.4" r="4.6"/><circle cx="574.6" cy="235.2" r="4.6"/><circle cx="584.5" cy="240.2" r="4.6"/><circle cx="634.0" cy="215.6" r="4.6"/><circle cx="637.5" cy="220.5" r="4.6"/><circle cx="647.3" cy="219.5" r="4.6"/><circle cx="655.2" cy="213.1" r="4.6"/><circle cx="670.5" cy="217.6" r="4.6"/><circle cx="674.8" cy="204.8" r="4.6"/><circle cx="680.7" cy="208.7" r="4.6"/><circle cx="690.5" cy="207.8" r="4.6"/><circle cx="712.1" cy="212.3" r="4.6"/><circle cx="696.4" cy="216.6" r="4.6"/><circle cx="705.2" cy="217.6" r="4.6"/><circle cx="680.7" cy="222.5" r="4.6"/><circle cx="687.6" cy="224.8" r="4.6"/><circle cx="675.8" cy="227.4" r="4.6"/><circle cx="688.5" cy="231.3" r="4.6"/><circle cx="696.4" cy="232.3" r="4.6"/><circle cx="702.3" cy="236.2" r="4.6"/><circle cx="706.2" cy="241.1" r="4.6"/><circle cx="687.6" cy="240.2" r="4.6"/><circle cx="670.9" cy="238.2" r="4.6"/><circle cx="674.8" cy="242.1" r="4.6"/><circle cx="737.6" cy="229.4" r="4.6"/><circle cx="721.0" cy="235.6" r="4.6"/><circle cx="740.6" cy="241.1" r="4.6"/><circle cx="763.2" cy="244.0" r="4.6"/><circle cx="664.0" cy="208.7" r="4.6"/><circle cx="597.2" cy="231.3" r="4.6"/><circle cx="608.0" cy="222.5" r="4.6"/><circle cx="617.8" cy="222.5" r="4.6"/><circle cx="624.7" cy="224.4" r="4.6"/><circle cx="613.9" cy="230.3" r="4.6"/><circle cx="633.6" cy="228.4" r="4.6"/><circle cx="643.4" cy="234.3" r="4.6"/><circle cx="657.1" cy="232.3" r="4.6"/><circle cx="664.0" cy="226.4" r="4.6"/><circle cx="661.0" cy="222.5" r="4.6"/><circle cx="602.1" cy="236.2" r="4.6"/><circle cx="613.9" cy="240.2" r="4.6"/><circle cx="629.6" cy="236.2" r="4.6"/><circle cx="582.5" cy="282.0" r="4.6"/><circle cx="578.6" cy="300.7" r="4.6"/><circle cx="580.5" cy="314.4" r="4.6"/><circle cx="594.3" cy="302.7" r="4.6"/><circle cx="605.1" cy="309.5" r="4.6"/><circle cx="610.0" cy="320.7" r="4.6"/><circle cx="621.8" cy="318.4" r="4.6"/><circle cx="643.4" cy="323.3" r="4.6"/><circle cx="651.2" cy="325.2" r="4.6"/><circle cx="666.0" cy="319.4" r="4.6"/><circle cx="666.0" cy="327.2" r="4.6"/><circle cx="669.9" cy="331.1" r="4.6"/><circle cx="685.6" cy="332.1" r="4.6"/><circle cx="687.6" cy="325.2" r="4.6"/><circle cx="696.4" cy="317.4" r="4.6"/><circle cx="704.3" cy="332.1" r="4.6"/><circle cx="705.2" cy="302.7" r="4.6"/><circle cx="713.1" cy="303.6" r="4.6"/><circle cx="719.0" cy="313.5" r="4.6"/><circle cx="719.0" cy="321.3" r="4.6"/><circle cx="725.9" cy="324.3" r="4.6"/><circle cx="740.6" cy="312.1" r="4.6"/><circle cx="767.1" cy="304.6" r="4.6"/><circle cx="770.0" cy="310.9" r="4.6"/><circle cx="780.8" cy="316.8" r="4.6"/><circle cx="746.5" cy="334.0" r="4.6"/><circle cx="710.1" cy="283.4" r="4.6"/><circle cx="729.8" cy="289.9" r="4.6"/><circle cx="724.9" cy="278.7" r="4.6"/><circle cx="732.7" cy="272.2" r="4.6"/><circle cx="750.4" cy="287.9" r="4.6"/><circle cx="766.1" cy="282.6" r="4.6"/><circle cx="716.0" cy="268.3" r="4.6"/><circle cx="718.0" cy="263.4" r="4.6"/><circle cx="710.1" cy="252.6" r="4.6"/><circle cx="741.6" cy="249.6" r="4.6"/><circle cx="743.5" cy="255.5" r="4.6"/><circle cx="701.3" cy="260.4" r="4.6"/><circle cx="699.3" cy="286.0" r="4.6"/><circle cx="666.0" cy="335.7" r="4.6"/><circle cx="676.8" cy="321.0" r="4.6"/><circle cx="683.6" cy="322.4" r="4.6"/><circle cx="594.3" cy="341.6" r="4.6"/><circle cx="617.8" cy="344.5" r="4.6"/><circle cx="619.8" cy="351.4" r="4.6"/><circle cx="630.6" cy="350.4" r="4.6"/><circle cx="640.4" cy="342.0" r="4.6"/><circle cx="644.9" cy="338.1" r="4.6"/><circle cx="654.8" cy="337.7" r="4.6"/><circle cx="694.4" cy="342.6" r="4.6"/><circle cx="689.5" cy="347.1" r="4.6"/><circle cx="701.3" cy="337.3" r="4.6"/><circle cx="699.3" cy="353.8" r="4.6"/><circle cx="688.2" cy="363.2" r="4.6"/><circle cx="697.4" cy="363.6" r="4.6"/><circle cx="780.5" cy="347.9" r="4.6"/><circle cx="765.7" cy="359.9" r="4.6"/><circle cx="716.4" cy="370.1" r="4.6"/><circle cx="723.9" cy="372.0" r="4.6"/><circle cx="641.4" cy="378.5" r="4.6"/><circle cx="641.4" cy="387.2" r="4.6"/><circle cx="662.6" cy="377.0" r="4.6"/><circle cx="660.7" cy="386.8" r="4.6"/><circle cx="656.1" cy="390.1" r="4.6"/><circle cx="688.5" cy="394.0" r="4.6"/><circle cx="698.0" cy="394.0" r="4.6"/><circle cx="735.3" cy="385.8" r="4.6"/><circle cx="743.1" cy="387.2" r="4.6"/><circle cx="661.8" cy="431.4" r="4.6"/><circle cx="692.1" cy="429.5" r="4.6"/><circle cx="811.5" cy="422.4" r="4.6"/><circle cx="813.0" cy="428.7" r="4.6"/><circle cx="812.3" cy="436.5" r="4.6"/><circle cx="810.8" cy="237.3" r="4.6"/><circle cx="839.9" cy="220.6" r="4.6"/><circle cx="840.5" cy="228.5" r="4.6"/><circle cx="814.4" cy="296.6" r="4.6"/><circle cx="803.6" cy="328.7" r="4.6"/><circle cx="870.7" cy="333.8" r="4.6"/><circle cx="815.0" cy="357.4" r="4.6"/><circle cx="799.6" cy="393.1" r="4.6"/><circle cx="884.1" cy="384.3" r="4.6"/><circle cx="584.1" cy="233.8" r="4.6"/><circle cx="586.5" cy="248.0" r="4.6"/><circle cx="586.0" cy="255.5" r="4.6"/><circle cx="585.1" cy="261.1" r="4.6"/><circle cx="594.5" cy="255.5" r="4.6"/><circle cx="630.3" cy="225.4" r="4.6"/><circle cx="637.8" cy="229.1" r="4.6"/><circle cx="607.7" cy="250.8" r="4.6"/><circle cx="613.3" cy="258.3" r="4.6"/><circle cx="628.4" cy="245.1" r="4.6"/><circle cx="635.9" cy="252.7" r="4.6"/><circle cx="626.5" cy="258.3" r="4.6"/><circle cx="650.0" cy="229.1" r="4.6"/><circle cx="650.0" cy="248.0" r="4.6"/><circle cx="664.2" cy="246.1" r="4.6"/><circle cx="651.9" cy="257.4" r="4.6"/><circle cx="660.4" cy="261.1" r="4.6"/><circle cx="643.4" cy="258.3" r="4.6"/><circle cx="641.6" cy="243.2" r="4.6"/><circle cx="662.2" cy="214.4" r="4.6"/><circle cx="669.8" cy="208.8" r="4.6"/><circle cx="694.3" cy="248.3" r="4.6"/><circle cx="683.0" cy="250.2" r="4.6"/><circle cx="702.7" cy="252.1" r="4.6"/><circle cx="580.4" cy="264.4" r="4.6"/><circle cx="584.1" cy="273.8" r="4.6"/><circle cx="583.2" cy="292.7" r="4.6"/><circle cx="694.3" cy="268.8" r="4.6"/><circle cx="697.1" cy="274.5" r="4.6"/><circle cx="696.1" cy="297.1" r="4.6"/><circle cx="618.0" cy="313.8" r="4.6"/><circle cx="614.3" cy="301.6" r="4.6"/><circle cx="624.6" cy="308.2" r="4.6"/><circle cx="635.0" cy="308.2" r="4.6"/><circle cx="643.4" cy="314.8" r="4.6"/><circle cx="657.6" cy="304.4" r="4.6"/><circle cx="665.1" cy="306.3" r="4.6"/><circle cx="584.1" cy="296.9" r="4.6"/><circle cx="603.9" cy="297.8" r="4.6"/><circle cx="622.7" cy="300.6" r="4.6"/><circle cx="640.6" cy="300.6" r="4.6"/><circle cx="650.0" cy="300.6" r="4.6"/><circle cx="676.4" cy="295.6" r="4.6"/><circle cx="675.4" cy="312.6" r="4.6"/><circle cx="690.5" cy="306.9" r="4.6"/><circle cx="651.4" cy="311.7" r="4.6"/><circle cx="706.5" cy="308.8" r="4.6"/><circle cx="712.1" cy="310.7" r="4.6"/></g><g fill="#3ea0e4"><rect x="1023" y="120.0" width="3.1" height="35.0"/><rect x="1023" y="155.0" width="23.0" height="35.0"/><rect x="1023" y="190.0" width="106.6" height="36.0"/><rect x="1023" y="226.0" width="176.0" height="35.0"/><rect x="1023" y="261.0" width="139.0" height="35.0"/><rect x="1023" y="296.0" width="110.3" height="36.0"/><rect x="1023" y="332.0" width="30.6" height="35.0"/><rect x="1023" y="367.0" width="11.5" height="35.0"/><rect x="1023" y="402.0" width="10.6" height="36.0"/><rect x="1023" y="438.0" width="5.6" height="35.5"/></g><g stroke="#000" stroke-opacity="0.15"><line x1="1023" x2="1046.0" y1="155.0" y2="155.0"/><line x1="1023" x2="1129.6" y1="190.0" y2="190.0"/><line x1="1023" x2="1199.0" y1="226.0" y2="226.0"/><line x1="1023" x2="1199.0" y1="261.0" y2="261.0"/><line x1="1023" x2="1162.0" y1="296.0" y2="296.0"/><line x1="1023" x2="1133.3" y1="332.0" y2="332.0"/><line x1="1023" x2="1053.6" y1="367.0" y2="367.0"/><line x1="1023" x2="1034.5" y1="402.0" y2="402.0"/><line x1="1023" x2="1033.6" y1="438.0" y2="438.0"/></g><g font-size="12" font-family="Liberation Sans, sans-serif"><path d="M1017.0,120.5H1023.0V473.5H1017.0" fill="none" stroke="#909395"/><line x1="1017.0" x2="1023.0" y1="183.5" y2="183.5" stroke="#909395"/><text x="1013.0" y="187.0" text-anchor="end" fill="#c9c9c9">10</text><line x1="1017.0" x2="1023.0" y1="278.5" y2="278.5" stroke="#909395"/><text x="1013.0" y="282.6" text-anchor="end" fill="#c9c9c9">0</text><line x1="1017.0" x2="1023.0" y1="374.5" y2="374.5" stroke="#909395"/><text x="1013.0" y="378.5" text-anchor="end" fill="#c9c9c9">-10</text><line x1="1017.0" x2="1023.0" y1="471.5" y2="471.5" stroke="#909395"/><text x="1013.0" y="475.4" text-anchor="end" fill="#c9c9c9">-20</text><path d="M1023.5,479.5V473.5H1199.5V479.5" fill="none" stroke="#909395"/><line x1="1023.5" x2="1023.5" y1="473.5" y2="479.5" stroke="#909395"/><text x="1023.5" y="490.5" text-anchor="middle" fill="#c9c9c9">0</text><line x1="1047.5" x2="1047.5" y1="473.5" y2="479.5" stroke="#909395"/><text x="1047.5" y="490.5" text-anchor="middle" fill="#c9c9c9">20</text><line x1="1072.5" x2="1072.5" y1="473.5" y2="479.5" stroke="#909395"/><text x="1072.5" y="490.5" text-anchor="middle" fill="#c9c9c9">40</text><line x1="1097.5" x2="1097.5" y1="473.5" y2="479.5" stroke="#909395"/><text x="1097.5" y="490.5" text-anchor="middle" fill="#c9c9c9">60</text><line x1="1121.5" x2="1121.5" y1="473.5" y2="479.5" stroke="#909395"/><text x="1121.5" y="490.5" text-anchor="middle" fill="#c9c9c9">80</text><line x1="1146.5" x2="1146.5" y1="473.5" y2="479.5" stroke="#909395"/><text x="1146.5" y="490.5" text-anchor="middle" fill="#c9c9c9">100</text><line x1="1171.5" x2="1171.5" y1="473.5" y2="479.5" stroke="#909395"/><text x="1171.5" y="490.5" text-anchor="middle" fill="#c9c9c9">120</text><line x1="1196.5" x2="1196.5" y1="473.5" y2="479.5" stroke="#909395"/><text x="1196.5" y="490.5" text-anchor="middle" fill="#c9c9c9">140</text></g><path d="M237.4,84.6 L241,81.7 V91.2" fill="none" stroke="#7b7f82" stroke-width="1.45"/><g font-size="14" font-weight="bold" fill="#fff" font-family="Liberation Sans, sans-serif"><text x="494" y="517" text-anchor="end" textLength="40" lengthAdjust="spacingAndGlyphs">Actual</text><text x="962" y="517" text-anchor="end" textLength="60" lengthAdjust="spacingAndGlyphs">Predicted</text><text x="1198.5" y="517" text-anchor="end" textLength="89" lengthAdjust="spacingAndGlyphs"># of Residuals</text><text transform="translate(34.6,127.3) rotate(-90)" text-anchor="end" textLength="53" lengthAdjust="spacingAndGlyphs">Residual</text><text transform="translate(509.6,127.3) rotate(-90)" text-anchor="end" textLength="53" lengthAdjust="spacingAndGlyphs">Residual</text><text transform="translate(983.7,120.5) rotate(-90)" text-anchor="end" textLength="53" lengthAdjust="spacingAndGlyphs">Residual</text></g></svg>
</body></html>
